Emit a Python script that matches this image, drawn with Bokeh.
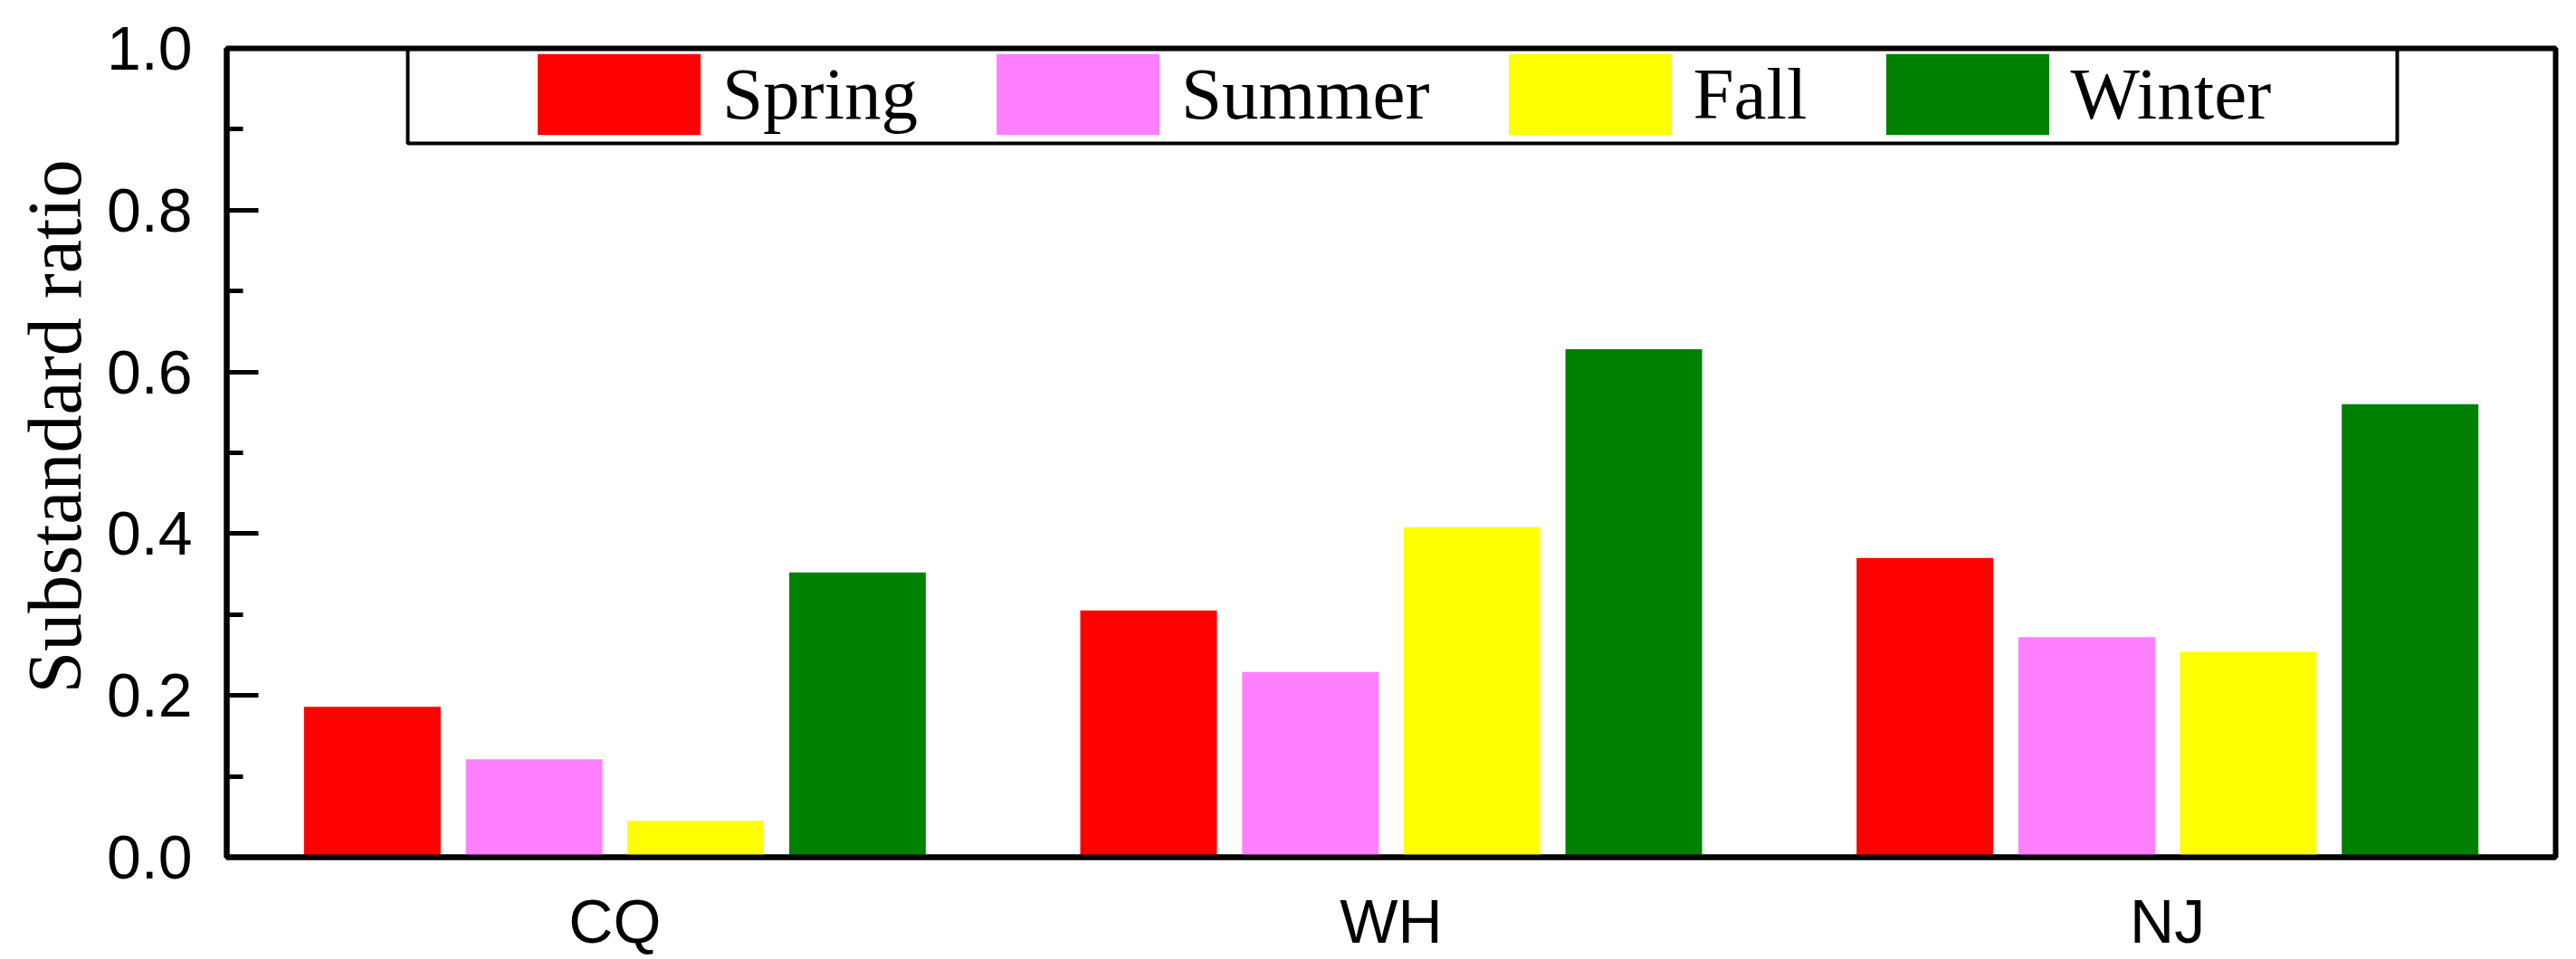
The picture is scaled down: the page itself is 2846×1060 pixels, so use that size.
from bokeh.plotting import figure
from bokeh.models import (FactorRange, Range1d, FixedTicker, NumeralTickFormatter,
                          Legend, LegendItem, BoxAnnotation, ColumnDataSource, Title)
from bokeh.transform import dodge
from bokeh.embed import file_html
from bokeh.resources import INLINE

# ---- data ----
sites = ["CQ", "WH", "NJ"]
seasons = ["Spring", "Summer", "Fall", "Winter"]
spring = [0.186, 0.305, 0.370]
summer = [0.121, 0.229, 0.272]
fall = [0.045, 0.408, 0.254]
winter = [0.352, 0.628, 0.560]
y_ticks = [0.0, 0.2, 0.4, 0.6, 0.8, 1.0]
y_minor = [0.1, 0.3, 0.5, 0.7, 0.9]
y_title = "Substandard ratio"

# ---- styles ----
colors = ["#FF0000", "#FF80FF", "#FFFF00", "#008000"]
offsets = [-0.3125, -0.104, 0.104, 0.3125]
bar_w = 0.176

src = ColumnDataSource(dict(site=sites, Spring=spring, Summer=summer, Fall=fall, Winter=winter))

p = figure(x_range=FactorRange(*sites), y_range=Range1d(0, 1.0),
           width=2840, height=1058, output_backend="svg", toolbar_location=None,
           min_border_left=250, min_border_right=17, min_border_top=53, min_border_bottom=111)
p.background_fill_color = "white"
p.border_fill_color = "white"
p.xgrid.grid_line_color = None
p.ygrid.grid_line_color = None
p.outline_line_color = "black"
p.outline_line_width = 6
p.outline_line_alpha = 1

renderers = []
for s, c, off in zip(seasons, colors, offsets):
    r = p.vbar(x=dodge("site", off, range=p.x_range), top=s, width=bar_w, bottom=0,
               source=src, fill_color=c, line_color=None)
    renderers.append(r)

# y axis
ya = p.yaxis[0]
ya.ticker = FixedTicker(ticks=y_ticks, minor_ticks=y_minor)
ya.formatter = NumeralTickFormatter(format="0.0")
ya.axis_line_width = 6
ya.axis_line_color = "black"
ya.major_tick_line_width = 5
ya.minor_tick_line_width = 5
ya.major_tick_line_color = "black"
ya.minor_tick_line_color = "black"
ya.major_tick_in = 35
ya.major_tick_out = 0
ya.minor_tick_in = 18
ya.minor_tick_out = 0
ya.major_label_text_font = "Liberation Sans"
ya.major_label_text_font_size = "68px"
ya.major_label_text_color = "black"
ya.major_label_standoff = 38

# y axis title, as a side title (sits a little above the frame centre in the original)
ytitle = Title(text=y_title, align="left", offset=181, standoff=16,
               text_font="Liberation Serif", text_font_size="84px",
               text_font_style="normal", text_color="black")
p.add_layout(ytitle, "left")

# x axis
xa = p.xaxis[0]
xa.axis_line_width = 6
xa.axis_line_color = "black"
xa.major_tick_line_color = None
xa.minor_tick_line_color = None
xa.major_label_text_font = "Liberation Sans"
xa.major_label_text_font_size = "68px"
xa.major_label_text_color = "black"
xa.major_label_standoff = 26

# legend
items = [LegendItem(label=s, renderers=[r]) for s, r in zip(seasons, renderers)]
legend = Legend(items=items, orientation="horizontal", location=(321, 787),
                padding=7, spacing=64, margin=0,
                glyph_width=225, glyph_height=112, label_height=90, label_standoff=2,
                label_text_font="Liberation Serif", label_text_font_size="81px",
                label_text_color="black",
                border_line_color=None, background_fill_alpha=0)
p.add_layout(legend)

box = BoxAnnotation(left=200, right=2398, bottom=789, top=894,
                    left_units="screen", right_units="screen",
                    bottom_units="screen", top_units="screen",
                    fill_color=None, fill_alpha=0,
                    line_color="black", line_alpha=1, line_width=4)
p.add_layout(box)

open("out.html", "w").write(file_html(p, INLINE))
